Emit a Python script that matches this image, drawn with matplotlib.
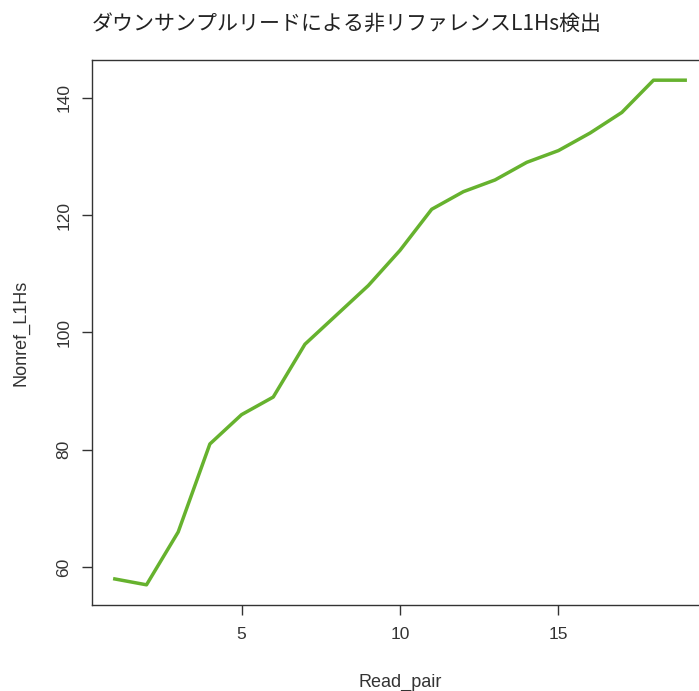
import matplotlib
matplotlib.use("Agg")
import matplotlib.pyplot as plt

read_pair = list(range(1, 20))
nonref_l1hs = [58, 57, 66, 81, 86, 89, 98, 103, 108, 114, 121, 124, 126, 129, 131, 134, 137.5, 143, 143]
x_ticks = [5, 10, 15]
y_ticks = [60, 80, 100, 120, 140]
title = "ダウンサンプルリードによる非リファレンスL1Hs検出"

plt.rcParams['font.family'] = ['Liberation Sans', 'DejaVu Sans']

fig = plt.figure(figsize=(6.99, 6.91), dpi=100)
ax = fig.add_axes([92/699, 1 - 605/691, 616/699, 545/691])
ax.plot(read_pair, nonref_l1hs, color='#66B22E', lw=2.5, solid_joinstyle='round')

rng = max(read_pair) - min(read_pair)
ax.set_xlim(min(read_pair) - 0.04*rng, max(read_pair) + 0.04*rng)
yr = max(nonref_l1hs) - min(nonref_l1hs)
ax.set_ylim(min(nonref_l1hs) - 0.04*yr, max(nonref_l1hs) + 0.04*yr)

ax.set_xticks(x_ticks)
ax.set_yticks(y_ticks)
ax.tick_params(direction='out', length=7, width=1, color='#333333', labelcolor='#333333', labelsize=12.5)
ax.tick_params(axis='x', pad=9)
ax.tick_params(axis='y', pad=8)
for lab in ax.get_yticklabels():
    lab.set_rotation(90)
    lab.set_va('center')
for s in ax.spines.values():
    s.set_color('#333333')
    s.set_linewidth(1)

ax.set_xlabel('Read_pair', fontsize=13, color='#333333', labelpad=23)
ax.set_ylabel('Nonref_L1Hs', fontsize=13, color='#333333', labelpad=19)

fig.text(92/699, 1 - 24/691, title, fontsize=15.1, color='#222222',
         family=['Noto Sans CJK JP', 'DejaVu Sans'], ha='left', va='center')

fig.savefig('out.png', dpi=100)
